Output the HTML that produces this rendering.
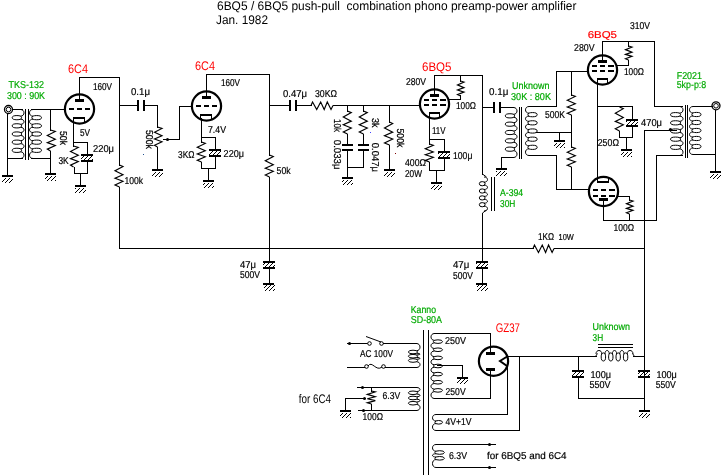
<!DOCTYPE html>
<html><head><meta charset="utf-8"><style>
html,body{margin:0;padding:0;background:#fff;width:723px;height:475px;overflow:hidden}
svg{display:block}
text{font-family:"Liberation Sans",sans-serif;text-rendering:geometricPrecision;stroke:currentColor;stroke-width:0.2px}
rect{shape-rendering:crispEdges}
</style></head><body>
<svg width="723" height="475" viewBox="0 0 723 475">
<defs><pattern id="hat" patternUnits="userSpaceOnUse" x="0" y="0" width="4" height="4"><rect x="0" y="3" width="1" height="1" fill="#000"/><rect x="1" y="2" width="1" height="1" fill="#000"/><rect x="2" y="1" width="1" height="1" fill="#000"/><rect x="3" y="0" width="1" height="1" fill="#000"/></pattern></defs>
<rect x="0" y="0" width="723" height="475" fill="#fff"/><g style="will-change:transform">
<text x="217" y="10" font-size="12.5" fill="#000" color="#000" textLength="359.5" lengthAdjust="spacingAndGlyphs" style="stroke-width:0">6BQ5 / 6BQ5 push-pull&#160; combination phono preamp-power amplifier</text>
<text x="216" y="24" font-size="12.5" fill="#000" color="#000" textLength="52" lengthAdjust="spacingAndGlyphs" style="stroke-width:0">Jan. 1982</text>
<circle cx="8.5" cy="109.5" r="4" fill="none" stroke="#000" stroke-width="1.3"/>
<circle cx="8.5" cy="109.5" r="2.3" fill="none" stroke="#000" stroke-width="1"/>
<rect x="7" y="113" width="1" height="63" fill="#000"/>
<rect x="2" y="175" width="11" height="2" fill="#000"/>
<rect x="2" y="178" width="11" height="5" fill="url(#hat)"/>
<rect x="12" y="109" width="11" height="1" fill="#000"/>
<rect x="7" y="158" width="16" height="1" fill="#000"/>
<path d="M20.50,109.50 C25.17,109.50 25.17,116.20 20.50,116.20 M20.50,119.14 C25.17,119.14 25.17,124.36 20.50,124.36 M20.50,127.30 C25.17,127.30 25.17,132.53 20.50,132.53 M20.50,135.47 C25.17,135.47 25.17,140.70 20.50,140.70 M20.50,143.64 C25.17,143.64 25.17,148.86 20.50,148.86 M20.50,151.80 C25.17,151.80 25.17,158.50 20.50,158.50 " fill="none" stroke="#000" stroke-width="1"/>
<ellipse cx="16.90" cy="117.67" rx="4.70" ry="2.10" fill="none" stroke="#000" stroke-width="1"/>
<ellipse cx="16.90" cy="125.83" rx="4.70" ry="2.10" fill="none" stroke="#000" stroke-width="1"/>
<ellipse cx="16.90" cy="134.00" rx="4.70" ry="2.10" fill="none" stroke="#000" stroke-width="1"/>
<ellipse cx="16.90" cy="142.17" rx="4.70" ry="2.10" fill="none" stroke="#000" stroke-width="1"/>
<ellipse cx="16.90" cy="150.33" rx="4.70" ry="2.10" fill="none" stroke="#000" stroke-width="1"/>
<rect x="25" y="109" width="1" height="51" fill="#000"/>
<rect x="28" y="109" width="1" height="51" fill="#000"/>
<path d="M33.00,109.50 C28.33,109.50 28.33,116.20 33.00,116.20 M33.00,119.14 C28.33,119.14 28.33,124.36 33.00,124.36 M33.00,127.30 C28.33,127.30 28.33,132.53 33.00,132.53 M33.00,135.47 C28.33,135.47 28.33,140.70 33.00,140.70 M33.00,143.64 C28.33,143.64 28.33,148.86 33.00,148.86 M33.00,151.80 C28.33,151.80 28.33,158.50 33.00,158.50 " fill="none" stroke="#000" stroke-width="1"/>
<ellipse cx="36.70" cy="117.67" rx="4.80" ry="2.10" fill="none" stroke="#000" stroke-width="1"/>
<ellipse cx="36.70" cy="125.83" rx="4.80" ry="2.10" fill="none" stroke="#000" stroke-width="1"/>
<ellipse cx="36.70" cy="134.00" rx="4.80" ry="2.10" fill="none" stroke="#000" stroke-width="1"/>
<ellipse cx="36.70" cy="142.17" rx="4.80" ry="2.10" fill="none" stroke="#000" stroke-width="1"/>
<ellipse cx="36.70" cy="150.33" rx="4.80" ry="2.10" fill="none" stroke="#000" stroke-width="1"/>
<rect x="31" y="109" width="35" height="1" fill="#000"/>
<rect x="31" y="158" width="20" height="1" fill="#000"/>
<rect x="50" y="109" width="1" height="22" fill="#000"/>
<polyline points="50.50,130.00 55.30,131.47 47.30,135.46 55.30,139.24 47.30,142.60 55.30,145.54 47.30,149.11 50.50,151.00" fill="none" stroke="#000" stroke-width="1.15" stroke-linejoin="miter"/>
<rect x="50" y="151" width="1" height="23" fill="#000"/>
<rect x="45" y="173" width="11" height="2" fill="#000"/>
<rect x="45" y="176" width="11" height="5" fill="url(#hat)"/>
<text x="8.6" y="88" font-size="10" fill="#00aa00" color="#00aa00" textLength="35.4" lengthAdjust="spacingAndGlyphs">TKS-132</text>
<text x="7" y="99" font-size="10" fill="#00aa00" color="#00aa00" textLength="38" lengthAdjust="spacingAndGlyphs">300 : 90K</text>
<text x="60" y="131" font-size="10" fill="#000" color="#000" textLength="14" lengthAdjust="spacingAndGlyphs" transform="rotate(90 60 131)">50k</text>
<circle cx="79.5" cy="109" r="14.6" fill="none" stroke="#000" stroke-width="2.2"/>
<rect x="75" y="99" width="9" height="3" fill="#000"/>
<rect x="69" y="108" width="5" height="2" fill="#000"/>
<rect x="77" y="108" width="5" height="2" fill="#000"/>
<rect x="85" y="108" width="5" height="2" fill="#000"/>
<rect x="73" y="117" width="12" height="2" fill="#000"/>
<rect x="73" y="119" width="1" height="3" fill="#000"/>
<rect x="84" y="119" width="1" height="3" fill="#000"/>
<text x="68" y="73" font-size="12.5" fill="#ff0000" color="#ff0000" textLength="20" lengthAdjust="spacingAndGlyphs" style="stroke-width:0">6C4</text>
<rect x="79" y="77" width="1" height="23" fill="#000"/>
<rect x="79" y="77" width="41" height="1" fill="#000"/>
<text x="93" y="90" font-size="10" fill="#000" color="#000" textLength="19" lengthAdjust="spacingAndGlyphs">160V</text>
<rect x="119" y="77" width="1" height="89" fill="#000"/>
<polyline points="119.50,165.00 123.00,166.54 115.00,170.72 123.00,174.68 115.00,178.20 123.00,181.28 115.00,185.02 119.50,187.00" fill="none" stroke="#000" stroke-width="1.15" stroke-linejoin="miter"/>
<rect x="119" y="187" width="1" height="62" fill="#000"/>
<text x="124.4" y="184" font-size="10" fill="#000" color="#000" textLength="18.6" lengthAdjust="spacingAndGlyphs">100k</text>
<rect x="119" y="105" width="19" height="1" fill="#000"/>
<rect x="137" y="100" width="2" height="11" fill="#000"/>
<rect x="143" y="100" width="2" height="11" fill="#000"/>
<rect x="145" y="105" width="13" height="1" fill="#000"/>
<text x="131" y="95" font-size="10" fill="#000" color="#000" textLength="19" lengthAdjust="spacingAndGlyphs">0.1&#956;</text>
<rect x="157" y="105" width="1" height="23" fill="#000"/>
<polyline points="157.50,127.00 162.00,128.40 154.50,132.20 162.00,135.80 154.50,139.00 162.00,141.80 154.50,145.20 157.50,147.00" fill="none" stroke="#000" stroke-width="1.15" stroke-linejoin="miter"/>
<rect x="157" y="147" width="1" height="23" fill="#000"/>
<rect x="152" y="169" width="11" height="2" fill="#000"/>
<rect x="152" y="172" width="11" height="5" fill="url(#hat)"/>
<text x="146" y="130" font-size="10" fill="#000" color="#000" textLength="19" lengthAdjust="spacingAndGlyphs" transform="rotate(90 146 130)">500k</text>
<circle cx="167.5" cy="139.5" r="1.5" fill="#000"/>
<rect x="163" y="139" width="17" height="1" fill="#000"/>
<rect x="179" y="106" width="1" height="34" fill="#000"/>
<rect x="179" y="106" width="14" height="1" fill="#000"/>
<rect x="73" y="121" width="1" height="26" fill="#000"/>
<rect x="73" y="142" width="15" height="1" fill="#000"/>
<polyline points="73.50,146.00 78.30,147.47 70.50,151.46 78.30,155.24 70.50,158.60 78.30,161.54 70.50,165.11 73.50,167.00" fill="none" stroke="#000" stroke-width="1.15" stroke-linejoin="miter"/>
<rect x="74" y="167" width="1" height="7" fill="#000"/>
<rect x="74" y="173" width="14" height="1" fill="#000"/>
<rect x="87" y="142" width="1" height="13" fill="#000"/>
<rect x="81" y="154" width="12" height="2" fill="#000"/>
<rect x="81" y="160" width="12" height="2" fill="#000"/>
<rect x="81" y="156" width="12" height="4" fill="url(#hat)"/>
<rect x="87" y="161" width="1" height="13" fill="#000"/>
<rect x="80" y="173" width="1" height="13" fill="#000"/>
<rect x="75" y="185" width="11" height="2" fill="#000"/>
<rect x="75" y="188" width="11" height="5" fill="url(#hat)"/>
<text x="80" y="136" font-size="10" fill="#000" color="#000" textLength="10" lengthAdjust="spacingAndGlyphs">5V</text>
<text x="93" y="152" font-size="10" fill="#000" color="#000" textLength="21" lengthAdjust="spacingAndGlyphs">220&#956;</text>
<text x="58.4" y="164" font-size="10" fill="#000" color="#000" textLength="10.3" lengthAdjust="spacingAndGlyphs">3K</text>
<circle cx="206.5" cy="106" r="14.6" fill="none" stroke="#000" stroke-width="2.2"/>
<rect x="202" y="96" width="9" height="3" fill="#000"/>
<rect x="196" y="105" width="5" height="2" fill="#000"/>
<rect x="204" y="105" width="5" height="2" fill="#000"/>
<rect x="212" y="105" width="5" height="2" fill="#000"/>
<rect x="200" y="114" width="12" height="2" fill="#000"/>
<rect x="200" y="116" width="1" height="3" fill="#000"/>
<rect x="211" y="116" width="1" height="3" fill="#000"/>
<text x="195" y="70" font-size="12.5" fill="#ff0000" color="#ff0000" textLength="20" lengthAdjust="spacingAndGlyphs" style="stroke-width:0">6C4</text>
<rect x="206" y="74" width="1" height="23" fill="#000"/>
<rect x="206" y="74" width="64" height="1" fill="#000"/>
<text x="221" y="86" font-size="10" fill="#000" color="#000" textLength="19" lengthAdjust="spacingAndGlyphs">160V</text>
<rect x="201" y="118" width="1" height="25" fill="#000"/>
<rect x="201" y="137" width="15" height="1" fill="#000"/>
<polyline points="201.50,142.00 205.30,143.40 197.30,147.20 205.30,150.80 197.30,154.00 205.30,156.80 197.30,160.20 201.50,162.00" fill="none" stroke="#000" stroke-width="1.15" stroke-linejoin="miter"/>
<rect x="201" y="162" width="1" height="7" fill="#000"/>
<rect x="201" y="168" width="15" height="1" fill="#000"/>
<rect x="215" y="137" width="1" height="13" fill="#000"/>
<rect x="209" y="149" width="12" height="2" fill="#000"/>
<rect x="209" y="155" width="12" height="2" fill="#000"/>
<rect x="209" y="151" width="12" height="4" fill="url(#hat)"/>
<rect x="215" y="156" width="1" height="13" fill="#000"/>
<rect x="208" y="168" width="1" height="13" fill="#000"/>
<rect x="203" y="180" width="11" height="2" fill="#000"/>
<rect x="203" y="183" width="11" height="5" fill="url(#hat)"/>
<text x="208" y="133" font-size="10" fill="#000" color="#000" textLength="18" lengthAdjust="spacingAndGlyphs">7.4V</text>
<text x="178" y="158" font-size="10" fill="#000" color="#000" textLength="16.4" lengthAdjust="spacingAndGlyphs">3K&#937;</text>
<text x="223.6" y="157" font-size="10" fill="#000" color="#000" textLength="20.4" lengthAdjust="spacingAndGlyphs">220&#956;</text>
<rect x="269" y="74" width="1" height="82" fill="#000"/>
<polyline points="269.50,155.00 273.30,156.54 265.30,160.72 273.30,164.68 265.30,168.20 273.30,171.28 265.30,175.02 269.50,177.00" fill="none" stroke="#000" stroke-width="1.15" stroke-linejoin="miter"/>
<rect x="269" y="177" width="1" height="72" fill="#000"/>
<text x="276.6" y="174" font-size="10" fill="#000" color="#000" textLength="14.1" lengthAdjust="spacingAndGlyphs">50k</text>
<rect x="269" y="105" width="21" height="1" fill="#000"/>
<rect x="289" y="100" width="2" height="11" fill="#000"/>
<rect x="295" y="100" width="2" height="11" fill="#000"/>
<rect x="297" y="105" width="15" height="1" fill="#000"/>
<polyline points="311.00,105.50 312.54,102.00 316.72,109.50 320.68,102.00 324.20,109.50 327.28,102.00 331.02,109.50 333.00,105.50" fill="none" stroke="#000" stroke-width="1.15" stroke-linejoin="miter"/>
<rect x="333" y="105" width="88" height="1" fill="#000"/>
<text x="283" y="97" font-size="10" fill="#000" color="#000" textLength="24" lengthAdjust="spacingAndGlyphs">0.47&#956;</text>
<text x="315" y="97" font-size="10" fill="#000" color="#000" textLength="22" lengthAdjust="spacingAndGlyphs">30K&#937;</text>
<rect x="347" y="105" width="1" height="7" fill="#000"/>
<polyline points="347.50,111.00 351.30,112.61 343.30,116.98 351.30,121.12 343.30,124.80 351.30,128.02 343.30,131.93 347.50,134.00" fill="none" stroke="#000" stroke-width="1.15" stroke-linejoin="miter"/>
<rect x="347" y="134" width="1" height="11" fill="#000"/>
<rect x="342" y="144" width="11" height="2" fill="#000"/>
<rect x="342" y="149" width="11" height="2" fill="#000"/>
<rect x="347" y="151" width="1" height="27" fill="#000"/>
<rect x="342" y="177" width="11" height="2" fill="#000"/>
<rect x="342" y="180" width="11" height="5" fill="url(#hat)"/>
<rect x="363" y="105" width="1" height="7" fill="#000"/>
<polyline points="363.50,111.00 367.30,112.61 359.30,116.98 367.30,121.12 359.30,124.80 367.30,128.02 359.30,131.93 363.50,134.00" fill="none" stroke="#000" stroke-width="1.15" stroke-linejoin="miter"/>
<rect x="363" y="134" width="1" height="11" fill="#000"/>
<rect x="358" y="144" width="11" height="2" fill="#000"/>
<rect x="358" y="149" width="11" height="2" fill="#000"/>
<rect x="363" y="151" width="1" height="17" fill="#000"/>
<rect x="347" y="167" width="17" height="1" fill="#000"/>
<rect x="389" y="105" width="1" height="18" fill="#000"/>
<polyline points="389.50,122.00 392.70,123.61 384.50,127.98 392.70,132.12 384.50,135.80 392.70,139.02 384.50,142.93 389.50,145.00" fill="none" stroke="#000" stroke-width="1.15" stroke-linejoin="miter"/>
<rect x="389" y="145" width="1" height="25" fill="#000"/>
<rect x="384" y="169" width="11" height="2" fill="#000"/>
<rect x="384" y="172" width="11" height="5" fill="url(#hat)"/>
<text x="334" y="119" font-size="10" fill="#000" color="#000" textLength="13" lengthAdjust="spacingAndGlyphs" transform="rotate(90 334 119)">10k</text>
<text x="333.5" y="139.8" font-size="10" fill="#000" color="#000" textLength="29.7" lengthAdjust="spacingAndGlyphs" transform="rotate(90 333.5 139.8)">0.033&#956;</text>
<text x="372" y="118" font-size="10" fill="#000" color="#000" textLength="9.5" lengthAdjust="spacingAndGlyphs" transform="rotate(90 372 118)">3k</text>
<text x="372" y="142.7" font-size="10" fill="#000" color="#000" textLength="29.3" lengthAdjust="spacingAndGlyphs" transform="rotate(90 372 142.7)">0.047&#956;</text>
<text x="396.8" y="128.4" font-size="10" fill="#000" color="#000" textLength="19.0" lengthAdjust="spacingAndGlyphs" transform="rotate(90 396.8 128.4)">500k</text>
<circle cx="434.5" cy="104" r="14.6" fill="none" stroke="#000" stroke-width="2.2"/>
<rect x="430" y="94" width="9" height="3" fill="#000"/>
<rect x="424" y="99" width="5" height="2" fill="#000"/>
<rect x="432" y="99" width="5" height="2" fill="#000"/>
<rect x="440" y="99" width="6" height="2" fill="#000"/>
<rect x="424" y="104" width="5" height="2" fill="#000"/>
<rect x="432" y="104" width="5" height="2" fill="#000"/>
<rect x="440" y="104" width="6" height="2" fill="#000"/>
<rect x="429" y="112" width="11" height="2" fill="#000"/>
<rect x="429" y="114" width="1" height="3" fill="#000"/>
<rect x="439" y="114" width="1" height="3" fill="#000"/>
<text x="422" y="71" font-size="12.5" fill="#ff0000" color="#ff0000" textLength="29.5" lengthAdjust="spacingAndGlyphs" style="stroke-width:0">6BQ5</text>
<rect x="434" y="75" width="1" height="20" fill="#000"/>
<rect x="434" y="75" width="49" height="1" fill="#000"/>
<rect x="460" y="75" width="1" height="7" fill="#000"/>
<polyline points="460.50,81.00 464.00,82.05 457.50,84.90 464.00,87.60 457.50,90.00 464.00,92.10 457.50,94.65 460.50,96.00" fill="none" stroke="#000" stroke-width="1.15" stroke-linejoin="miter"/>
<rect x="460" y="95" width="1" height="5" fill="#000"/>
<rect x="449" y="99" width="12" height="1" fill="#000"/>
<text x="406" y="85" font-size="10" fill="#000" color="#000" textLength="20" lengthAdjust="spacingAndGlyphs">280V</text>
<text x="456" y="109" font-size="10" fill="#000" color="#000" textLength="20" lengthAdjust="spacingAndGlyphs">100&#937;</text>
<rect x="429" y="116" width="1" height="29" fill="#000"/>
<rect x="429" y="139" width="16" height="1" fill="#000"/>
<polyline points="429.50,144.00 433.30,145.26 425.30,148.68 433.30,151.92 425.30,154.80 433.30,157.32 425.30,160.38 429.50,162.00" fill="none" stroke="#000" stroke-width="1.15" stroke-linejoin="miter"/>
<rect x="429" y="162" width="1" height="9" fill="#000"/>
<rect x="429" y="170" width="16" height="1" fill="#000"/>
<rect x="444" y="139" width="1" height="13" fill="#000"/>
<rect x="438" y="151" width="12" height="2" fill="#000"/>
<rect x="438" y="157" width="12" height="2" fill="#000"/>
<rect x="438" y="153" width="12" height="4" fill="url(#hat)"/>
<rect x="444" y="158" width="1" height="13" fill="#000"/>
<rect x="436" y="170" width="1" height="13" fill="#000"/>
<rect x="431" y="182" width="11" height="2" fill="#000"/>
<rect x="431" y="185" width="11" height="5" fill="url(#hat)"/>
<text x="432" y="134" font-size="10" fill="#000" color="#000" textLength="13.5" lengthAdjust="spacingAndGlyphs">11V</text>
<text x="453" y="159" font-size="10" fill="#000" color="#000" textLength="19.4" lengthAdjust="spacingAndGlyphs">100&#956;</text>
<text x="405" y="166" font-size="10" fill="#000" color="#000" textLength="21" lengthAdjust="spacingAndGlyphs">400&#937;</text>
<text x="405" y="177" font-size="10" fill="#000" color="#000" textLength="17" lengthAdjust="spacingAndGlyphs">20W</text>
<rect x="482" y="107" width="12" height="1" fill="#000"/>
<rect x="493" y="102" width="2" height="11" fill="#000"/>
<rect x="499" y="102" width="2" height="11" fill="#000"/>
<rect x="501" y="107" width="13" height="1" fill="#000"/>
<text x="489" y="95" font-size="10" fill="#000" color="#000" textLength="19.3" lengthAdjust="spacingAndGlyphs">0.1&#956;</text>
<text x="512" y="89" font-size="10" fill="#00aa00" color="#00aa00" textLength="37.5" lengthAdjust="spacingAndGlyphs">Unknown</text>
<text x="511" y="100" font-size="10" fill="#00aa00" color="#00aa00" textLength="40" lengthAdjust="spacingAndGlyphs">30K : 80K</text>
<path d="M513.50,107.50 C518.17,107.50 518.17,114.36 513.50,114.36 M513.50,117.30 C518.17,117.30 518.17,122.70 513.50,122.70 M513.50,125.64 C518.17,125.64 518.17,131.03 513.50,131.03 M513.50,133.97 C518.17,133.97 518.17,139.36 513.50,139.36 M513.50,142.30 C518.17,142.30 518.17,147.70 513.50,147.70 M513.50,150.64 C518.17,150.64 518.17,157.50 513.50,157.50 " fill="none" stroke="#000" stroke-width="1"/>
<ellipse cx="509.95" cy="115.83" rx="4.65" ry="2.10" fill="none" stroke="#000" stroke-width="1"/>
<ellipse cx="509.95" cy="124.17" rx="4.65" ry="2.10" fill="none" stroke="#000" stroke-width="1"/>
<ellipse cx="509.95" cy="132.50" rx="4.65" ry="2.10" fill="none" stroke="#000" stroke-width="1"/>
<ellipse cx="509.95" cy="140.83" rx="4.65" ry="2.10" fill="none" stroke="#000" stroke-width="1"/>
<ellipse cx="509.95" cy="149.17" rx="4.65" ry="2.10" fill="none" stroke="#000" stroke-width="1"/>
<rect x="501" y="157" width="13" height="1" fill="#000"/>
<rect x="501" y="157" width="1" height="12" fill="#000"/>
<rect x="496" y="168" width="11" height="2" fill="#000"/>
<rect x="496" y="171" width="11" height="5" fill="url(#hat)"/>
<rect x="519" y="107" width="1" height="52" fill="#000"/>
<rect x="521" y="107" width="1" height="52" fill="#000"/>
<path d="M529.00,106.50 C524.33,106.50 524.33,113.20 529.00,113.20 M529.00,116.14 C524.33,116.14 524.33,121.36 529.00,121.36 M529.00,124.30 C524.33,124.30 524.33,129.53 529.00,129.53 M529.00,132.47 C524.33,132.47 524.33,137.70 529.00,137.70 M529.00,140.64 C524.33,140.64 524.33,145.86 529.00,145.86 M529.00,148.80 C524.33,148.80 524.33,155.50 529.00,155.50 " fill="none" stroke="#000" stroke-width="1"/>
<ellipse cx="532.55" cy="114.67" rx="4.65" ry="2.10" fill="none" stroke="#000" stroke-width="1"/>
<ellipse cx="532.55" cy="122.83" rx="4.65" ry="2.10" fill="none" stroke="#000" stroke-width="1"/>
<ellipse cx="532.55" cy="131.00" rx="4.65" ry="2.10" fill="none" stroke="#000" stroke-width="1"/>
<ellipse cx="532.55" cy="139.17" rx="4.65" ry="2.10" fill="none" stroke="#000" stroke-width="1"/>
<ellipse cx="532.55" cy="147.33" rx="4.65" ry="2.10" fill="none" stroke="#000" stroke-width="1"/>
<rect x="529" y="106" width="28" height="1" fill="#000"/>
<rect x="556" y="71" width="1" height="36" fill="#000"/>
<rect x="556" y="71" width="33" height="1" fill="#000"/>
<rect x="536" y="132" width="36" height="1" fill="#000"/>
<rect x="559" y="132" width="1" height="9" fill="#000"/>
<rect x="554" y="140" width="11" height="2" fill="#000"/>
<rect x="554" y="143" width="11" height="5" fill="url(#hat)"/>
<rect x="529" y="155" width="28" height="1" fill="#000"/>
<rect x="556" y="155" width="1" height="35" fill="#000"/>
<rect x="556" y="189" width="34" height="1" fill="#000"/>
<rect x="571" y="71" width="1" height="25" fill="#000"/>
<polyline points="571.50,95.00 575.30,96.40 567.30,100.20 575.30,103.80 567.30,107.00 575.30,109.80 567.30,113.20 571.50,115.00" fill="none" stroke="#000" stroke-width="1.15" stroke-linejoin="miter"/>
<rect x="571" y="115" width="1" height="33" fill="#000"/>
<polyline points="571.50,147.00 575.30,148.40 567.30,152.20 575.30,155.80 567.30,159.00 575.30,161.80 567.30,165.20 571.50,167.00" fill="none" stroke="#000" stroke-width="1.15" stroke-linejoin="miter"/>
<rect x="571" y="167" width="1" height="23" fill="#000"/>
<text x="545" y="118" font-size="10" fill="#000" color="#000" textLength="20" lengthAdjust="spacingAndGlyphs">500K</text>
<rect x="482" y="75" width="1" height="100" fill="#000"/>
<polyline points="482.50,174.00 486.50,177.00" fill="none" stroke="#000" stroke-width="1" stroke-linejoin="miter"/>
<path d="M484.00,177.00 C488.67,177.00 488.67,182.23 484.00,182.23 M484.00,185.17 C488.67,185.17 488.67,189.53 484.00,189.53 M484.00,192.47 C488.67,192.47 488.67,196.43 484.00,196.43 M484.00,199.37 C488.67,199.37 488.67,203.23 484.00,203.23 M484.00,206.17 C488.67,206.17 488.67,211.00 484.00,211.00 " fill="none" stroke="#000" stroke-width="1"/>
<ellipse cx="482.20" cy="183.70" rx="2.90" ry="2.10" fill="none" stroke="#000" stroke-width="1"/>
<ellipse cx="482.20" cy="191.00" rx="2.90" ry="2.10" fill="none" stroke="#000" stroke-width="1"/>
<ellipse cx="482.20" cy="197.90" rx="2.90" ry="2.10" fill="none" stroke="#000" stroke-width="1"/>
<ellipse cx="482.20" cy="204.70" rx="2.90" ry="2.10" fill="none" stroke="#000" stroke-width="1"/>
<polyline points="486.50,210.00 482.50,213.00" fill="none" stroke="#000" stroke-width="1" stroke-linejoin="miter"/>
<rect x="482" y="213" width="1" height="36" fill="#000"/>
<rect x="491" y="177" width="1" height="34" fill="#000"/>
<rect x="494" y="177" width="1" height="34" fill="#000"/>
<text x="500" y="196" font-size="10" fill="#00aa00" color="#00aa00" textLength="23.2" lengthAdjust="spacingAndGlyphs">A-394</text>
<text x="500" y="207" font-size="10" fill="#00aa00" color="#00aa00" textLength="15.3" lengthAdjust="spacingAndGlyphs">30H</text>
<circle cx="602.5" cy="70" r="14.6" fill="none" stroke="#000" stroke-width="2.2"/>
<rect x="598" y="60" width="9" height="3" fill="#000"/>
<rect x="592" y="65" width="5" height="2" fill="#000"/>
<rect x="600" y="65" width="5" height="2" fill="#000"/>
<rect x="608" y="65" width="6" height="2" fill="#000"/>
<rect x="592" y="70" width="5" height="2" fill="#000"/>
<rect x="600" y="70" width="5" height="2" fill="#000"/>
<rect x="608" y="70" width="6" height="2" fill="#000"/>
<rect x="597" y="78" width="11" height="2" fill="#000"/>
<rect x="597" y="80" width="1" height="3" fill="#000"/>
<rect x="607" y="80" width="1" height="3" fill="#000"/>
<text x="587.7" y="38" font-size="10" fill="#ff0000" color="#ff0000" textLength="29.3" lengthAdjust="spacingAndGlyphs">6BQ5</text>
<text x="630" y="29" font-size="10" fill="#000" color="#000" textLength="20" lengthAdjust="spacingAndGlyphs">310V</text>
<text x="574" y="51" font-size="10" fill="#000" color="#000" textLength="20.5" lengthAdjust="spacingAndGlyphs">280V</text>
<text x="624" y="75" font-size="10" fill="#000" color="#000" textLength="20" lengthAdjust="spacingAndGlyphs">100&#937;</text>
<rect x="602" y="41" width="1" height="20" fill="#000"/>
<rect x="602" y="41" width="53" height="1" fill="#000"/>
<rect x="654" y="41" width="1" height="66" fill="#000"/>
<rect x="654" y="106" width="29" height="1" fill="#000"/>
<rect x="628" y="41" width="1" height="6" fill="#000"/>
<polyline points="628.50,46.00 632.00,46.98 625.50,49.64 632.00,52.16 625.50,54.40 632.00,56.36 625.50,58.74 628.50,60.00" fill="none" stroke="#000" stroke-width="1.15" stroke-linejoin="miter"/>
<rect x="628" y="60" width="1" height="6" fill="#000"/>
<rect x="617" y="65" width="12" height="1" fill="#000"/>
<rect x="597" y="81" width="1" height="98" fill="#000"/>
<rect x="597" y="106" width="36" height="1" fill="#000"/>
<polyline points="619.50,107.00 623.30,108.68 615.30,113.24 623.30,117.56 615.30,121.40 623.30,124.76 615.30,128.84 619.50,131.00" fill="none" stroke="#000" stroke-width="1.15" stroke-linejoin="miter"/>
<rect x="619" y="131" width="1" height="7" fill="#000"/>
<rect x="619" y="137" width="14" height="1" fill="#000"/>
<rect x="632" y="106" width="1" height="14" fill="#000"/>
<rect x="626" y="119" width="12" height="2" fill="#000"/>
<rect x="626" y="125" width="12" height="2" fill="#000"/>
<rect x="626" y="121" width="12" height="4" fill="url(#hat)"/>
<rect x="632" y="126" width="1" height="12" fill="#000"/>
<rect x="626" y="137" width="1" height="14" fill="#000"/>
<rect x="621" y="149" width="11" height="2" fill="#000"/>
<rect x="621" y="152" width="11" height="5" fill="url(#hat)"/>
<text x="641" y="126" font-size="10" fill="#000" color="#000" textLength="21" lengthAdjust="spacingAndGlyphs">470&#956;</text>
<text x="597.7" y="146" font-size="10" fill="#000" color="#000" textLength="21.3" lengthAdjust="spacingAndGlyphs">250&#937;</text>
<circle cx="603.5" cy="191.5" r="14.6" fill="none" stroke="#000" stroke-width="2.2"/>
<rect x="597" y="181" width="12" height="2" fill="#000"/>
<rect x="597" y="177" width="1" height="4" fill="#000"/>
<rect x="608" y="177" width="1" height="4" fill="#000"/>
<rect x="593" y="189" width="5" height="2" fill="#000"/>
<rect x="601" y="189" width="5" height="2" fill="#000"/>
<rect x="609" y="189" width="6" height="2" fill="#000"/>
<rect x="593" y="195" width="5" height="2" fill="#000"/>
<rect x="601" y="195" width="5" height="2" fill="#000"/>
<rect x="609" y="195" width="6" height="2" fill="#000"/>
<rect x="599" y="198" width="9" height="3" fill="#000"/>
<rect x="603" y="201" width="1" height="20" fill="#000"/>
<rect x="603" y="220" width="54" height="1" fill="#000"/>
<rect x="656" y="155" width="1" height="66" fill="#000"/>
<rect x="656" y="155" width="27" height="1" fill="#000"/>
<rect x="618" y="196" width="12" height="1" fill="#000"/>
<rect x="629" y="196" width="1" height="5" fill="#000"/>
<polyline points="629.50,200.00 633.00,200.98 626.50,203.64 633.00,206.16 626.50,208.40 633.00,210.36 626.50,212.74 629.50,214.00" fill="none" stroke="#000" stroke-width="1.15" stroke-linejoin="miter"/>
<rect x="629" y="214" width="1" height="7" fill="#000"/>
<text x="613.5" y="231" font-size="10" fill="#000" color="#000" textLength="20.5" lengthAdjust="spacingAndGlyphs">100&#937;</text>
<rect x="644" y="130" width="33" height="1" fill="#000"/>
<rect x="644" y="130" width="1" height="281" fill="#000"/>
<circle cx="670.5" cy="129.5" r="1.6" fill="#000"/>
<path d="M679.50,106.50 C684.17,106.50 684.17,113.20 679.50,113.20 M679.50,116.14 C684.17,116.14 684.17,121.36 679.50,121.36 M679.50,124.30 C684.17,124.30 684.17,129.53 679.50,129.53 M679.50,132.47 C684.17,132.47 684.17,137.70 679.50,137.70 M679.50,140.64 C684.17,140.64 684.17,145.86 679.50,145.86 M679.50,148.80 C684.17,148.80 684.17,155.50 679.50,155.50 " fill="none" stroke="#000" stroke-width="1"/>
<ellipse cx="675.55" cy="114.67" rx="5.05" ry="2.10" fill="none" stroke="#000" stroke-width="1"/>
<ellipse cx="675.55" cy="122.83" rx="5.05" ry="2.10" fill="none" stroke="#000" stroke-width="1"/>
<ellipse cx="675.55" cy="131.00" rx="5.05" ry="2.10" fill="none" stroke="#000" stroke-width="1"/>
<ellipse cx="675.55" cy="139.17" rx="5.05" ry="2.10" fill="none" stroke="#000" stroke-width="1"/>
<ellipse cx="675.55" cy="147.33" rx="5.05" ry="2.10" fill="none" stroke="#000" stroke-width="1"/>
<rect x="685" y="105" width="1" height="53" fill="#000"/>
<rect x="687" y="105" width="1" height="53" fill="#000"/>
<path d="M693.00,106.50 C688.33,106.50 688.33,113.03 693.00,113.03 M693.00,115.97 C688.33,115.97 688.33,121.03 693.00,121.03 M693.00,123.97 C688.33,123.97 688.33,129.03 693.00,129.03 M693.00,131.97 C688.33,131.97 688.33,137.03 693.00,137.03 M693.00,139.97 C688.33,139.97 688.33,145.03 693.00,145.03 M693.00,147.97 C688.33,147.97 688.33,154.50 693.00,154.50 " fill="none" stroke="#000" stroke-width="1"/>
<ellipse cx="696.45" cy="114.50" rx="4.55" ry="2.10" fill="none" stroke="#000" stroke-width="1"/>
<ellipse cx="696.45" cy="122.50" rx="4.55" ry="2.10" fill="none" stroke="#000" stroke-width="1"/>
<ellipse cx="696.45" cy="130.50" rx="4.55" ry="2.10" fill="none" stroke="#000" stroke-width="1"/>
<ellipse cx="696.45" cy="138.50" rx="4.55" ry="2.10" fill="none" stroke="#000" stroke-width="1"/>
<ellipse cx="696.45" cy="146.50" rx="4.55" ry="2.10" fill="none" stroke="#000" stroke-width="1"/>
<rect x="693" y="106" width="20" height="1" fill="#000"/>
<circle cx="716" cy="105.8" r="4" fill="none" stroke="#000" stroke-width="1.3"/>
<circle cx="716" cy="105.8" r="2.3" fill="none" stroke="#000" stroke-width="1"/>
<rect x="715" y="110" width="1" height="63" fill="#000"/>
<rect x="693" y="154" width="23" height="1" fill="#000"/>
<rect x="710" y="171" width="11" height="2" fill="#000"/>
<rect x="710" y="174" width="11" height="5" fill="url(#hat)"/>
<text x="676.7" y="79" font-size="10" fill="#00aa00" color="#00aa00" textLength="25.3" lengthAdjust="spacingAndGlyphs">F2021</text>
<text x="676.7" y="88" font-size="10" fill="#00aa00" color="#00aa00" textLength="29.5" lengthAdjust="spacingAndGlyphs">5kp-p:8</text>
<rect x="119" y="248" width="415" height="1" fill="#000"/>
<polyline points="533.00,248.50 534.47,245.00 538.46,252.50 542.24,245.00 545.60,252.50 548.54,245.00 552.11,252.50 554.00,248.50" fill="none" stroke="#000" stroke-width="1.15" stroke-linejoin="miter"/>
<rect x="554" y="248" width="91" height="1" fill="#000"/>
<text x="538" y="240" font-size="10" fill="#000" color="#000" textLength="16" lengthAdjust="spacingAndGlyphs">1K&#937;</text>
<text x="558.6" y="240" font-size="8.6" fill="#000" color="#000" textLength="15.2" lengthAdjust="spacingAndGlyphs">10W</text>
<rect x="269" y="248" width="1" height="14" fill="#000"/>
<rect x="263" y="261" width="12" height="2" fill="#000"/>
<rect x="263" y="267" width="12" height="2" fill="#000"/>
<rect x="263" y="263" width="12" height="4" fill="url(#hat)"/>
<rect x="269" y="268" width="1" height="16" fill="#000"/>
<rect x="263" y="283" width="11" height="2" fill="#000"/>
<rect x="264" y="285" width="11" height="6" fill="url(#hat)"/>
<rect x="482" y="248" width="1" height="14" fill="#000"/>
<rect x="476" y="261" width="12" height="2" fill="#000"/>
<rect x="476" y="267" width="12" height="2" fill="#000"/>
<rect x="476" y="263" width="12" height="4" fill="url(#hat)"/>
<rect x="482" y="268" width="1" height="16" fill="#000"/>
<rect x="476" y="283" width="11" height="2" fill="#000"/>
<rect x="477" y="285" width="11" height="6" fill="url(#hat)"/>
<text x="240" y="268" font-size="10" fill="#000" color="#000" textLength="16" lengthAdjust="spacingAndGlyphs">47&#956;</text>
<text x="240" y="278" font-size="10" fill="#000" color="#000" textLength="20" lengthAdjust="spacingAndGlyphs">500V</text>
<text x="453" y="268" font-size="10" fill="#000" color="#000" textLength="16.3" lengthAdjust="spacingAndGlyphs">47&#956;</text>
<text x="453" y="279" font-size="10" fill="#000" color="#000" textLength="19.8" lengthAdjust="spacingAndGlyphs">500V</text>
<rect x="423" y="330" width="1" height="145" fill="#000"/>
<rect x="428" y="330" width="1" height="145" fill="#000"/>
<text x="410.8" y="313" font-size="10" fill="#00aa00" color="#00aa00" textLength="25.2" lengthAdjust="spacingAndGlyphs">Kanno</text>
<text x="410.8" y="323" font-size="10" fill="#00aa00" color="#00aa00" textLength="31.2" lengthAdjust="spacingAndGlyphs">SD-80A</text>
<path d="M434.50,333.50 C429.83,333.50 429.83,340.37 434.50,340.37 M434.50,342.88 C429.83,342.88 429.83,348.49 434.50,348.49 M434.50,351.01 C429.83,351.01 429.83,356.62 434.50,356.62 M434.50,359.13 C429.83,359.13 429.83,364.74 434.50,364.74 M434.50,367.26 C429.83,367.26 429.83,372.87 434.50,372.87 M434.50,375.38 C429.83,375.38 429.83,380.99 434.50,380.99 M434.50,383.51 C429.83,383.51 429.83,389.12 434.50,389.12 M434.50,391.63 C429.83,391.63 429.83,398.50 434.50,398.50 " fill="none" stroke="#000" stroke-width="1"/>
<ellipse cx="437.95" cy="341.62" rx="4.55" ry="1.80" fill="none" stroke="#000" stroke-width="1"/>
<ellipse cx="437.95" cy="349.75" rx="4.55" ry="1.80" fill="none" stroke="#000" stroke-width="1"/>
<ellipse cx="437.95" cy="357.88" rx="4.55" ry="1.80" fill="none" stroke="#000" stroke-width="1"/>
<ellipse cx="437.95" cy="366.00" rx="4.55" ry="1.80" fill="none" stroke="#000" stroke-width="1"/>
<ellipse cx="437.95" cy="374.12" rx="4.55" ry="1.80" fill="none" stroke="#000" stroke-width="1"/>
<ellipse cx="437.95" cy="382.25" rx="4.55" ry="1.80" fill="none" stroke="#000" stroke-width="1"/>
<ellipse cx="437.95" cy="390.38" rx="4.55" ry="1.80" fill="none" stroke="#000" stroke-width="1"/>
<rect x="434" y="333" width="57" height="1" fill="#000"/>
<rect x="437" y="365" width="26" height="1" fill="#000"/>
<rect x="462" y="365" width="1" height="14" fill="#000"/>
<rect x="457" y="377" width="11" height="2" fill="#000"/>
<rect x="457" y="379" width="11" height="5" fill="url(#hat)"/>
<rect x="434" y="398" width="57" height="1" fill="#000"/>
<text x="445" y="344" font-size="10" fill="#000" color="#000" textLength="21" lengthAdjust="spacingAndGlyphs">250V</text>
<text x="445.6" y="395" font-size="10" fill="#000" color="#000" textLength="20.0" lengthAdjust="spacingAndGlyphs">250V</text>
<circle cx="493.5" cy="361.2" r="14.6" fill="none" stroke="#000" stroke-width="2.2"/>
<rect x="490" y="333" width="1" height="20" fill="#000"/>
<rect x="486" y="352" width="9" height="3" fill="#000"/>
<rect x="486" y="368" width="9" height="3" fill="#000"/>
<rect x="490" y="370" width="1" height="29" fill="#000"/>
<polyline points="508.00,356.00 500.00,361.00 507.00,366.00" fill="none" stroke="#000" stroke-width="2" stroke-linejoin="miter"/>
<text x="495.7" y="332" font-size="12.5" fill="#ff0000" color="#ff0000" textLength="24.3" lengthAdjust="spacingAndGlyphs" style="stroke-width:0">GZ37</text>
<rect x="508" y="356" width="89" height="1" fill="#000"/>
<rect x="519" y="356" width="1" height="75" fill="#000"/>
<rect x="507" y="366" width="1" height="49" fill="#000"/>
<path d="M436.00,414.50 C431.33,414.50 431.33,421.04 436.00,421.04 M436.00,423.56 C431.33,423.56 431.33,430.50 436.00,430.50 " fill="none" stroke="#000" stroke-width="1"/>
<ellipse cx="438.70" cy="422.30" rx="3.80" ry="1.80" fill="none" stroke="#000" stroke-width="1"/>
<rect x="436" y="414" width="71" height="1" fill="#000"/>
<rect x="436" y="430" width="84" height="1" fill="#000"/>
<text x="445.6" y="425" font-size="10" fill="#000" color="#000" textLength="26.0" lengthAdjust="spacingAndGlyphs">4V+1V</text>
<path d="M436.00,444.50 C431.33,444.50 431.33,451.24 436.00,451.24 M436.00,453.76 C431.33,453.76 431.33,457.04 436.00,457.04 M436.00,459.56 C431.33,459.56 431.33,467.50 436.00,467.50 " fill="none" stroke="#000" stroke-width="1"/>
<ellipse cx="439.65" cy="452.50" rx="4.75" ry="1.80" fill="none" stroke="#000" stroke-width="1"/>
<ellipse cx="439.65" cy="458.30" rx="4.75" ry="1.80" fill="none" stroke="#000" stroke-width="1"/>
<rect x="436" y="444" width="60" height="1" fill="#000"/>
<rect x="436" y="467" width="60" height="1" fill="#000"/>
<circle cx="489.5" cy="444.5" r="1.5" fill="#000"/>
<circle cx="489.5" cy="467.5" r="1.5" fill="#000"/>
<text x="449" y="459" font-size="10" fill="#000" color="#000" textLength="18" lengthAdjust="spacingAndGlyphs">6.3V</text>
<text x="487" y="459" font-size="10" fill="#000" color="#000" textLength="79.6" lengthAdjust="spacingAndGlyphs">for 6BQ5 and 6C4</text>
<path d="M416.50,343.50 C421.17,343.50 421.17,350.74 416.50,350.74 M416.50,353.26 C421.17,353.26 421.17,354.94 416.50,354.94 M416.50,357.46 C421.17,357.46 421.17,359.24 416.50,359.24 M416.50,361.76 C421.17,361.76 421.17,367.50 416.50,367.50 " fill="none" stroke="#000" stroke-width="1"/>
<ellipse cx="413.00" cy="352.00" rx="4.60" ry="1.80" fill="none" stroke="#000" stroke-width="1"/>
<ellipse cx="413.00" cy="356.20" rx="4.60" ry="1.80" fill="none" stroke="#000" stroke-width="1"/>
<ellipse cx="413.00" cy="360.50" rx="4.60" ry="1.80" fill="none" stroke="#000" stroke-width="1"/>
<rect x="347" y="343" width="22" height="1" fill="#000"/>
<circle cx="349.5" cy="343.5" r="1.5" fill="#000"/>
<circle cx="369.5" cy="343.5" r="1.8" fill="#fff" stroke="#000" stroke-width="1"/>
<circle cx="381.5" cy="343.5" r="1.8" fill="#fff" stroke="#000" stroke-width="1"/>
<polyline points="366.00,336.50 381.00,342.00" fill="none" stroke="#000" stroke-width="1" stroke-linejoin="miter"/>
<rect x="383" y="343" width="34" height="1" fill="#000"/>
<rect x="347" y="367" width="19" height="1" fill="#000"/>
<circle cx="366.5" cy="366.5" r="1.8" fill="#fff" stroke="#000" stroke-width="1"/>
<circle cx="383.5" cy="366.5" r="1.8" fill="#fff" stroke="#000" stroke-width="1"/>
<path d="M368,366 C372,360 376,372 382,367" fill="none" stroke="#000" stroke-width="1"/>
<rect x="385" y="367" width="32" height="1" fill="#000"/>
<text x="360" y="357" font-size="10" fill="#000" color="#000" textLength="33" lengthAdjust="spacingAndGlyphs">AC 100V</text>
<path d="M416.50,387.50 C421.17,387.50 421.17,391.54 416.50,391.54 M416.50,394.06 C421.17,394.06 421.17,396.74 416.50,396.74 M416.50,399.26 C421.17,399.26 421.17,401.94 416.50,401.94 M416.50,404.46 C421.17,404.46 421.17,410.50 416.50,410.50 " fill="none" stroke="#000" stroke-width="1"/>
<ellipse cx="413.00" cy="392.80" rx="4.60" ry="1.80" fill="none" stroke="#000" stroke-width="1"/>
<ellipse cx="413.00" cy="398.00" rx="4.60" ry="1.80" fill="none" stroke="#000" stroke-width="1"/>
<ellipse cx="413.00" cy="403.20" rx="4.60" ry="1.80" fill="none" stroke="#000" stroke-width="1"/>
<rect x="357" y="387" width="60" height="1" fill="#000"/>
<circle cx="362.5" cy="387.5" r="1.5" fill="#000"/>
<rect x="358" y="410" width="59" height="1" fill="#000"/>
<circle cx="363.5" cy="410.5" r="1.5" fill="#000"/>
<rect x="371" y="387" width="1" height="5" fill="#000"/>
<polyline points="371.50,391.00 375.30,391.91 367.30,394.38 375.30,396.72 367.30,398.80 375.30,400.62 367.30,402.83 371.50,404.00" fill="none" stroke="#000" stroke-width="1.15" stroke-linejoin="miter"/>
<rect x="371" y="404" width="1" height="7" fill="#000"/>
<rect x="345" y="398" width="21" height="1" fill="#000"/>
<circle cx="364.5" cy="398.5" r="1.5" fill="#000"/>
<rect x="345" y="398" width="1" height="13" fill="#000"/>
<rect x="340" y="410" width="11" height="2" fill="#000"/>
<rect x="340" y="413" width="11" height="5" fill="url(#hat)"/>
<text x="382.5" y="399" font-size="10" fill="#000" color="#000" textLength="17.7" lengthAdjust="spacingAndGlyphs">6.3V</text>
<text x="362.6" y="420" font-size="10" fill="#000" color="#000" textLength="20.4" lengthAdjust="spacingAndGlyphs">100&#937;</text>
<text x="298.7" y="403" font-size="12.5" fill="#000" color="#000" textLength="32.3" lengthAdjust="spacingAndGlyphs" style="stroke-width:0">for 6C4</text>
<path d="M596.00,354.00 C596.00,349.33 601.86,349.33 601.86,354.00 M604.94,354.00 C604.94,349.33 609.26,349.33 609.26,354.00 M612.34,354.00 C612.34,349.33 616.66,349.33 616.66,354.00 M619.74,354.00 C619.74,349.33 624.06,349.33 624.06,354.00 M627.14,354.00 C627.14,349.33 633.00,349.33 633.00,354.00 " fill="none" stroke="#000" stroke-width="1"/>
<ellipse cx="603.40" cy="356.95" rx="2.20" ry="4.05" fill="none" stroke="#000" stroke-width="1"/>
<ellipse cx="610.80" cy="356.95" rx="2.20" ry="4.05" fill="none" stroke="#000" stroke-width="1"/>
<ellipse cx="618.20" cy="356.95" rx="2.20" ry="4.05" fill="none" stroke="#000" stroke-width="1"/>
<ellipse cx="625.60" cy="356.95" rx="2.20" ry="4.05" fill="none" stroke="#000" stroke-width="1"/>
<rect x="633" y="356" width="12" height="1" fill="#000"/>
<rect x="598" y="344" width="35" height="1" fill="#000"/>
<rect x="598" y="347" width="35" height="1" fill="#000"/>
<polyline points="595.50,356.50 597.50,353.50" fill="none" stroke="#000" stroke-width="1" stroke-linejoin="miter"/>
<polyline points="632.50,353.50 634.50,356.50" fill="none" stroke="#000" stroke-width="1" stroke-linejoin="miter"/>
<rect x="578" y="356" width="1" height="15" fill="#000"/>
<rect x="572" y="370" width="12" height="2" fill="#000"/>
<rect x="572" y="376" width="12" height="2" fill="#000"/>
<rect x="572" y="372" width="12" height="4" fill="url(#hat)"/>
<rect x="578" y="377" width="1" height="22" fill="#000"/>
<rect x="578" y="398" width="67" height="1" fill="#000"/>
<rect x="638" y="370" width="12" height="2" fill="#000"/>
<rect x="638" y="376" width="12" height="2" fill="#000"/>
<rect x="638" y="372" width="12" height="4" fill="url(#hat)"/>
<rect x="639" y="410" width="11" height="2" fill="#000"/>
<rect x="639" y="413" width="11" height="5" fill="url(#hat)"/>
<text x="592.6" y="330" font-size="10" fill="#00aa00" color="#00aa00" textLength="37.4" lengthAdjust="spacingAndGlyphs">Unknown</text>
<text x="592.6" y="341" font-size="10" fill="#00aa00" color="#00aa00" textLength="10.6" lengthAdjust="spacingAndGlyphs">3H</text>
<text x="590.5" y="378" font-size="10" fill="#000" color="#000" textLength="20.5" lengthAdjust="spacingAndGlyphs">100&#956;</text>
<text x="589.5" y="388" font-size="10" fill="#000" color="#000" textLength="21.0" lengthAdjust="spacingAndGlyphs">550V</text>
<text x="656.4" y="378" font-size="10" fill="#000" color="#000" textLength="20.4" lengthAdjust="spacingAndGlyphs">100&#956;</text>
<text x="655.8" y="388" font-size="10" fill="#000" color="#000" textLength="20.0" lengthAdjust="spacingAndGlyphs">550V</text>
<rect x="143" y="154" width="1" height="1" fill="#205090"/>
<rect x="370" y="132" width="1" height="1" fill="#4040ff"/>
<rect x="395" y="153" width="1" height="1" fill="#800000"/>
</g></svg></body></html>
